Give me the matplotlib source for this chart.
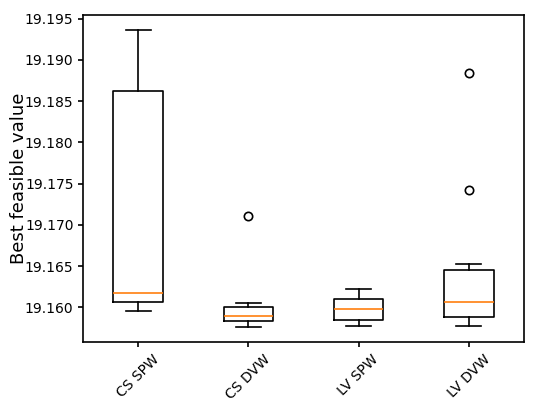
import matplotlib
matplotlib.use("Agg")
import matplotlib.pyplot as plt

# box statistics
labels = ["CS SPW", "CS DVW", "LV SPW", "LV DVW"]
whislo = [19.1596, 19.1576, 19.1577, 19.1577]
q1 = [19.1607, 19.1584, 19.1585, 19.1588]
med = [19.1618, 19.1590, 19.1598, 19.1607]
q3 = [19.1862, 19.1600, 19.1610, 19.1645]
whishi = [19.1936, 19.1605, 19.1623, 19.1653]
fliers = [[], [19.1711], [], [19.1884, 19.1742]]

stats = []
for i, name in enumerate(labels):
    stats.append({
        "label": name,
        "whislo": whislo[i],
        "q1": q1[i],
        "med": med[i],
        "q3": q3[i],
        "whishi": whishi[i],
        "fliers": fliers[i],
    })

lw = 1.2
fig = plt.figure(figsize=(5.4, 4.03), dpi=100)
ax = fig.add_axes([0.154, 0.151, 0.816, 0.811])
ax.bxp(stats,
       boxprops={"linewidth": lw},
       whiskerprops={"linewidth": lw},
       capprops={"linewidth": lw},
       medianprops={"linewidth": lw, "color": "C1"},
       flierprops={"markeredgewidth": lw})

for sp in ax.spines.values():
    sp.set_linewidth(lw)
ax.tick_params(width=lw)

ax.set_ylabel("Best feasible value", fontsize=13)
ax.yaxis.set_label_coords(-0.126, 0.5)
ax.yaxis.set_major_formatter(matplotlib.ticker.FormatStrFormatter("%.3f"))
plt.setp(ax.get_xticklabels(), rotation=45)

fig.savefig("out.png", dpi=100)
